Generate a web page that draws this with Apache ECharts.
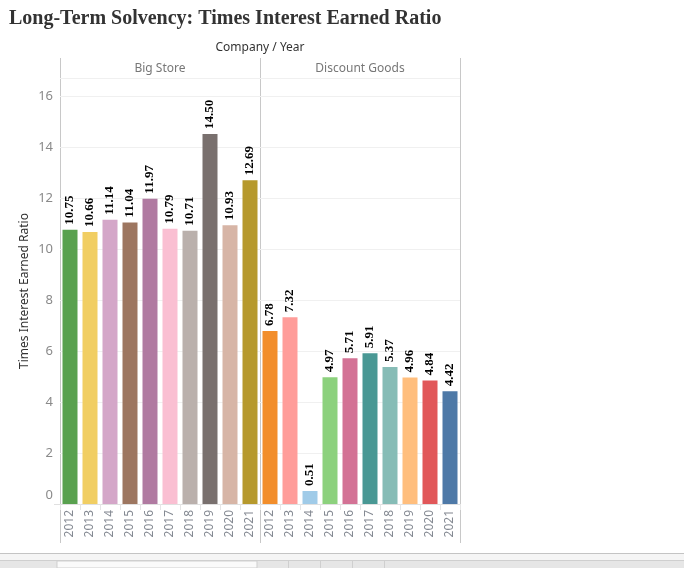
<!DOCTYPE html>
<html>
<head>
<meta charset="utf-8">
<title>Times Interest Earned Ratio</title>
<script src="https://cdn.jsdelivr.net/npm/echarts@6/dist/echarts.min.js"></script>
<style>
  html, body { margin: 0; padding: 0; background: #fff; }
  #main { width: 684px; height: 568px; }
</style>
</head>
<body>
<div id="main"></div>
<script>
// data
var years = ['2012', '2013', '2014', '2015', '2016', '2017', '2018', '2019', '2020', '2021'];
var companies = ['Big Store', 'Discount Goods'];
var bigStore = [10.75, 10.66, 11.14, 11.04, 11.97, 10.79, 10.71, 14.50, 10.93, 12.69];
var discountGoods = [6.78, 7.32, 0.51, 4.97, 5.71, 5.91, 5.37, 4.96, 4.84, 4.42];

// tableau 20 colours, one per company/year
var bigColors = ['#59a14f', '#f1ce63', '#d4a6c8', '#9d7660', '#b07aa1', '#fabfd2', '#bab0ac', '#79706e', '#d7b5a6', '#b6992d'];
var discColors = ['#f28e2b', '#ff9d9a', '#a0cbe8', '#8cd17d', '#d37295', '#499894', '#86bcb6', '#ffbe7d', '#e15759', '#4e79a7'];

var font = 'Noto Sans';
var lineCol = '#c8c8c8';

function xAxisFor(idx) {
  return {
    type: 'category',
    gridIndex: idx,
    data: years,
    axisLine: { show: true, lineStyle: { color: '#e0e0e0' } },
    axisTick: { show: true, interval: 0, length: 6, lineStyle: { color: '#e6e6e6' } },
    axisLabel: { rotate: 90, interval: 0, margin: 6, color: '#858a93', fontFamily: font, fontSize: 12 }
  };
}

function yAxisFor(idx) {
  return {
    type: 'value',
    gridIndex: idx,
    min: 0,
    max: 16.7,
    interval: 2,
    name: idx === 0 ? 'Times Interest Earned Ratio' : '',
    nameLocation: 'middle',
    nameGap: 29,
    nameTextStyle: { color: '#333', fontFamily: font, fontSize: 12 },
    axisLine: { show: false },
    axisTick: { show: false },
    splitLine: { show: true, lineStyle: { color: '#f0f0f0' } },
    axisLabel: {
      show: idx === 0,
      showMaxLabel: false,
      margin: 7,
      color: '#8a8a8a',
      fontFamily: font,
      fontSize: 13,
      formatter: function (v) { return v === 0 ? '{z|0}' : String(v); },
      rich: { z: { padding: [0, 0, 18, 0], color: '#8a8a8a', fontFamily: font, fontSize: 13 } }
    }
  };
}

function barSeries(idx, values, colors) {
  return {
    type: 'bar',
    name: companies[idx],
    xAxisIndex: idx,
    yAxisIndex: idx,
    data: values,
    barWidth: 15,
    itemStyle: { color: function (p) { return colors[p.dataIndex]; } },
    label: {
      show: true,
      position: 'top',
      rotate: 90,
      align: 'left',
      verticalAlign: 'middle',
      distance: 5,
      color: '#000',
      fontFamily: 'Liberation Serif',
      fontWeight: 'bold',
      fontSize: 13,
      formatter: function (p) { return p.value.toFixed(2); }
    },
    silent: true
  };
}

var chart = echarts.init(document.getElementById('main'));
chart.setOption({
  animation: false,
  title: {
    text: 'Long-Term Solvency: Times Interest Earned Ratio',
    left: 4,
    top: 4,
    textStyle: { fontFamily: 'Liberation Serif', fontWeight: 'bold', fontSize: 20, color: '#333' }
  },
  grid: [
    { left: 60, top: 78, width: 200, height: 426 },
    { left: 260, top: 78, width: 200, height: 426 }
  ],
  xAxis: [xAxisFor(0), xAxisFor(1)],
  yAxis: [yAxisFor(0), yAxisFor(1)],
  series: [barSeries(0, bigStore, bigColors), barSeries(1, discountGoods, discColors)],
  graphic: [
    // header texts
    { type: 'text', style: { text: 'Company / Year', x: 260, y: 48, align: 'center', verticalAlign: 'middle', fill: '#333', font: '12px "Noto Sans"' } },
    { type: 'text', style: { text: companies[0], x: 160, y: 69, align: 'center', verticalAlign: 'middle', fill: '#777', font: '12px "Noto Sans"' } },
    { type: 'text', style: { text: companies[1], x: 360, y: 69, align: 'center', verticalAlign: 'middle', fill: '#777', font: '12px "Noto Sans"' } },
    // panel frame lines
    { type: 'line', shape: { x1: 60.5, y1: 58, x2: 60.5, y2: 543 }, style: { stroke: lineCol, lineWidth: 1 } },
    { type: 'line', shape: { x1: 260.5, y1: 58, x2: 260.5, y2: 543 }, style: { stroke: lineCol, lineWidth: 1 } },
    { type: 'line', shape: { x1: 460.5, y1: 58, x2: 460.5, y2: 543 }, style: { stroke: lineCol, lineWidth: 1 } },
    { type: 'line', shape: { x1: 60, y1: 78.5, x2: 461, y2: 78.5 }, style: { stroke: lineCol, lineWidth: 1 } },
    { type: 'line', shape: { x1: 54, y1: 504.5, x2: 60, y2: 504.5 }, style: { stroke: '#e0e0e0', lineWidth: 1 } },
    // bottom tab strip
    { type: 'rect', shape: { x: 0, y: 553, width: 684, height: 15 }, style: { fill: '#f5f5f5', stroke: null } },
    { type: 'line', shape: { x1: 0, y1: 553.5, x2: 684, y2: 553.5 }, style: { stroke: '#c4c4c4', lineWidth: 1 } },
    { type: 'rect', shape: { x: 0, y: 560, width: 684, height: 8 }, style: { fill: '#e6e6e6', stroke: null } },
    { type: 'line', shape: { x1: 0, y1: 560.5, x2: 684, y2: 560.5 }, style: { stroke: '#cfcfcf', lineWidth: 1 } },
    { type: 'rect', shape: { x: 57, y: 561, width: 200, height: 7 }, style: { fill: '#fafafa', stroke: '#cfcfcf', lineWidth: 1 } },
    { type: 'line', shape: { x1: 288.5, y1: 561, x2: 288.5, y2: 568 }, style: { stroke: '#cfcfcf', lineWidth: 1 } },
    { type: 'line', shape: { x1: 320.5, y1: 561, x2: 320.5, y2: 568 }, style: { stroke: '#cfcfcf', lineWidth: 1 } },
    { type: 'line', shape: { x1: 352.5, y1: 561, x2: 352.5, y2: 568 }, style: { stroke: '#cfcfcf', lineWidth: 1 } },
    { type: 'line', shape: { x1: 384.5, y1: 561, x2: 384.5, y2: 568 }, style: { stroke: '#cfcfcf', lineWidth: 1 } }
  ]
});
</script>
</body>
</html>
